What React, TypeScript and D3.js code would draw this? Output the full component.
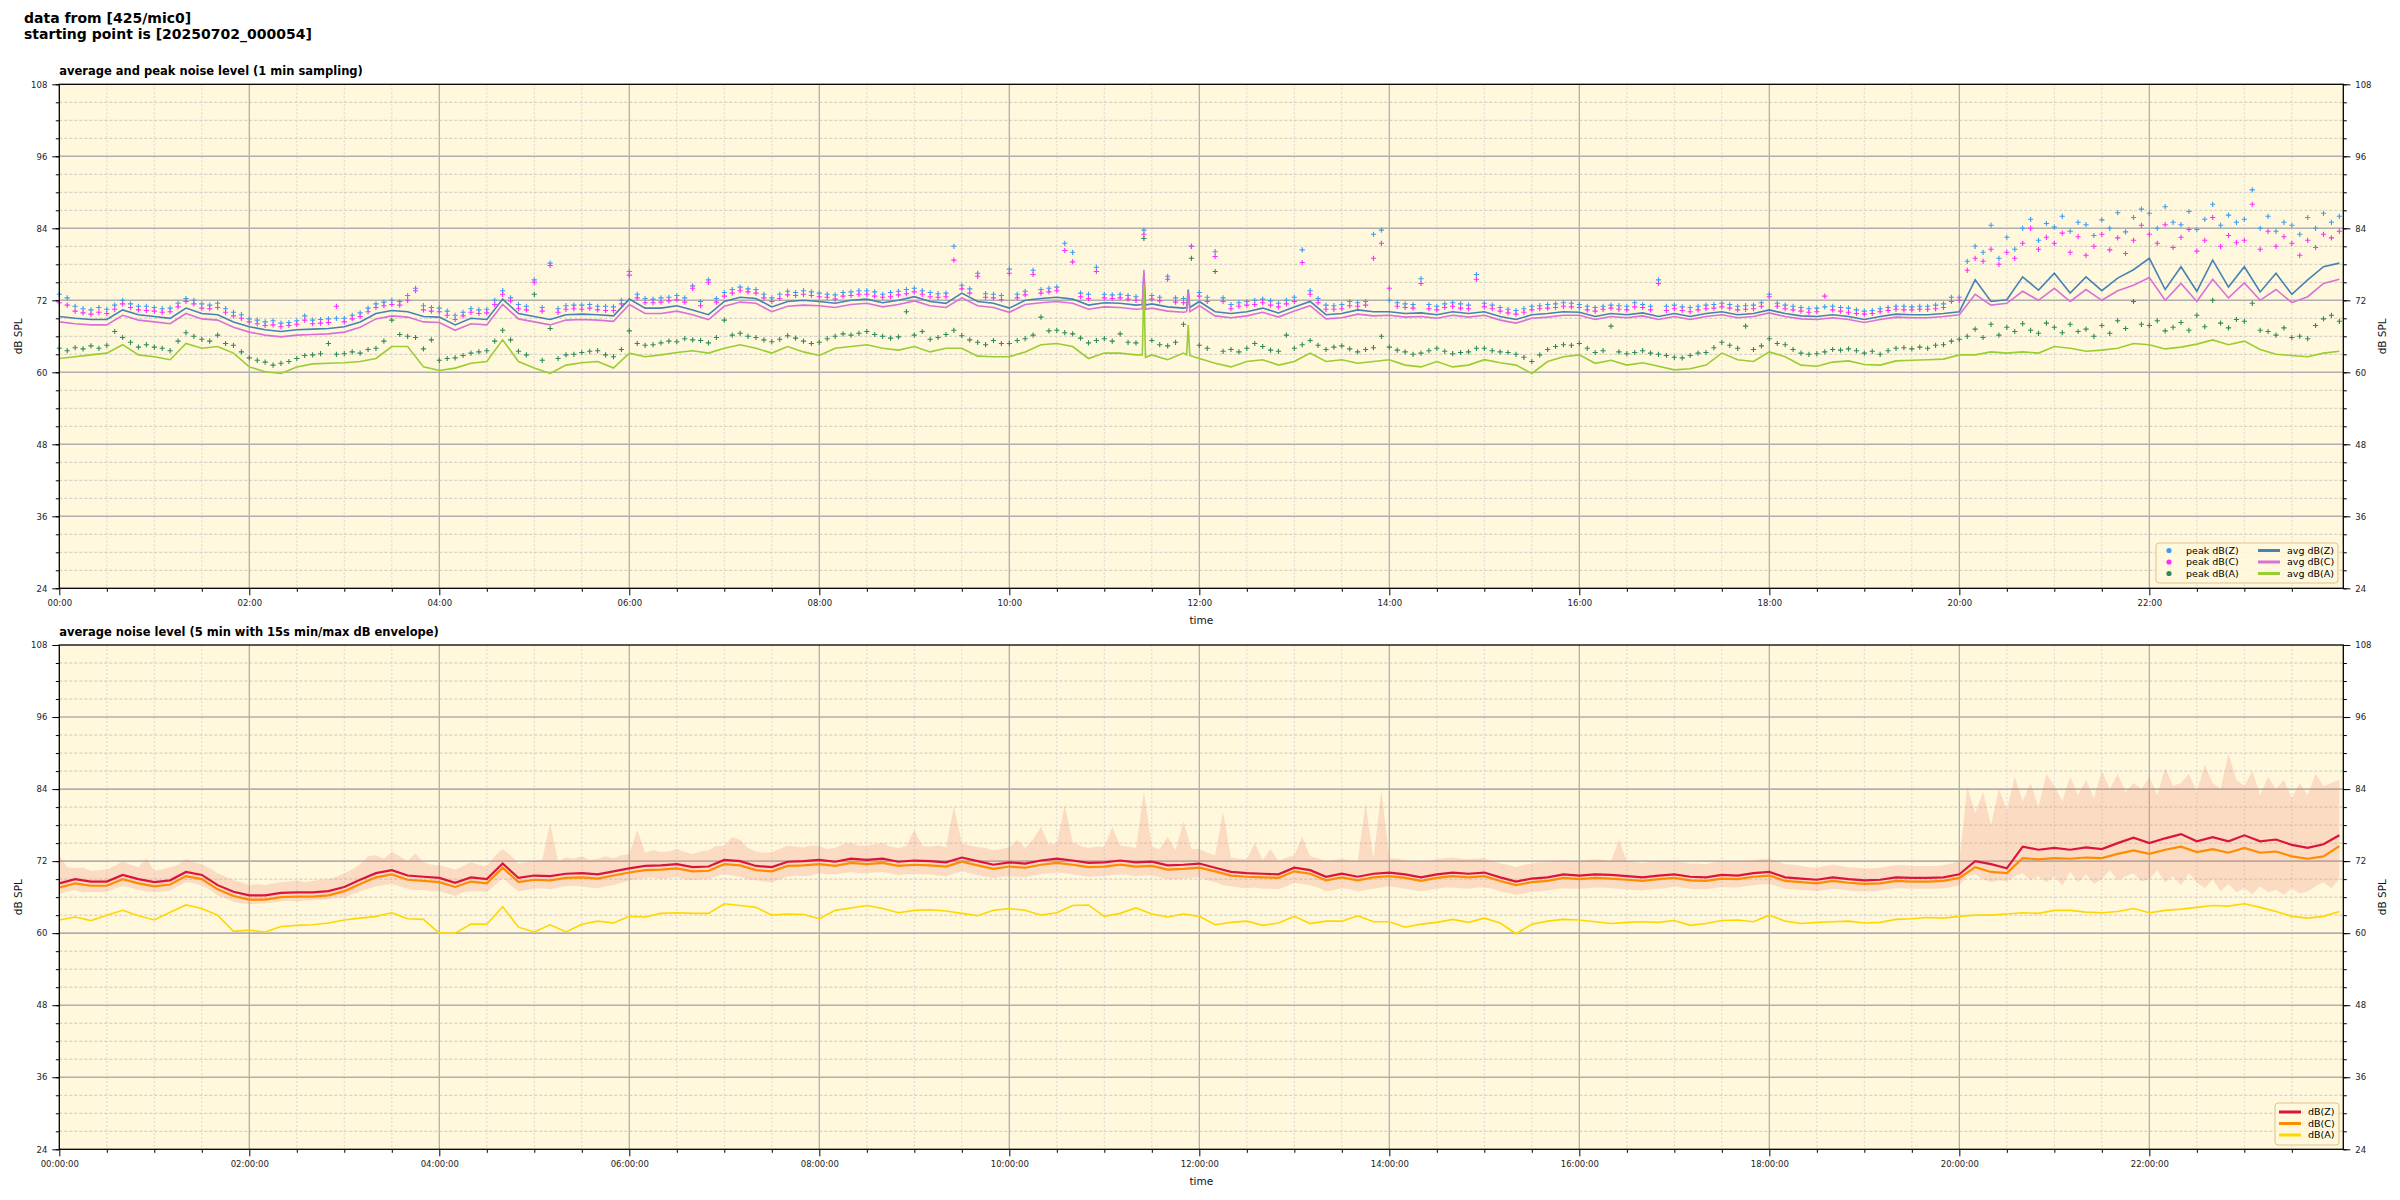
import React, { useEffect, useRef } from 'react';
import * as d3 from 'd3';

// ---- top panel: 1 min sampling (read every 10 min for the averages, every 5 min for the peaks)
const avgZ = [
  69.3, 69.0, 68.8, 68.8, 70.4, 69.6, 69.3, 69.0, 70.7, 69.8, 69.6, 68.4,
  67.6, 67.1, 66.8, 67.1, 67.2, 67.3, 67.6, 68.4, 69.8, 70.3, 70.1, 69.3,
  69.2, 67.9, 69.0, 68.8, 72.2, 69.8, 69.3, 68.8, 69.6, 69.7, 69.6, 69.4,
  72.2, 70.7, 70.7, 71.1, 70.4, 69.6, 71.8, 72.5, 72.3, 70.9, 71.8, 72.0,
  71.8, 71.5, 72.0, 72.2, 71.6, 72.0, 72.6, 71.8, 71.5, 73.2, 71.8, 71.5,
  70.7, 72.0, 72.3, 72.5, 72.2, 71.2, 71.6, 71.5, 71.2, 71.4, 70.9, 70.7,
  71.8, 70.1, 69.8, 70.1, 70.7, 69.9, 70.9, 71.8, 69.6, 69.8, 70.4, 70.1,
  70.1, 69.8, 69.9, 69.6, 70.1, 69.8, 70.1, 69.3, 68.8, 69.6, 69.8, 70.1,
  70.0, 69.3, 69.8, 69.6, 69.9, 69.3, 69.8, 69.3, 69.8, 70.1, 69.6, 69.8,
  70.4, 69.8, 69.4, 69.3, 69.6, 69.3, 68.8, 69.3, 69.7, 69.6, 69.6, 69.8,
  70.1, 75.4, 71.8, 72.1, 75.9, 73.7, 76.5, 73.2, 75.9, 73.6, 75.7, 77.1,
  79.0, 73.8, 77.6, 73.5, 78.7, 74.2, 77.6, 73.4, 76.5, 73.0, 75.4, 77.6,
  78.2,
];
const avgC = [
  68.4, 68.1, 67.9, 67.9, 69.5, 68.7, 68.4, 68.1, 69.8, 68.9, 68.7, 67.5,
  66.7, 66.2, 65.9, 66.2, 66.3, 66.4, 66.7, 67.5, 68.9, 69.4, 69.2, 68.4,
  68.3, 67.0, 68.1, 67.9, 71.3, 68.9, 68.4, 67.9, 68.7, 68.8, 68.7, 68.5,
  71.3, 69.8, 69.8, 70.2, 69.6, 68.8, 71.0, 71.7, 71.5, 70.1, 71.0, 71.2,
  71.1, 70.8, 71.3, 71.5, 70.9, 71.3, 71.9, 71.1, 70.8, 72.4, 71.1, 70.8,
  70.0, 71.3, 71.6, 71.8, 71.5, 70.5, 70.9, 70.8, 70.5, 70.7, 70.2, 70.0,
  71.1, 69.4, 69.1, 69.4, 70.0, 69.2, 70.2, 71.1, 68.9, 69.1, 69.7, 69.4,
  69.5, 69.2, 69.3, 69.0, 69.5, 69.2, 69.5, 68.7, 68.2, 69.0, 69.2, 69.5,
  69.5, 68.8, 69.3, 69.1, 69.4, 68.8, 69.3, 68.8, 69.3, 69.6, 69.1, 69.3,
  69.9, 69.3, 68.9, 68.8, 69.1, 68.8, 68.3, 68.8, 69.2, 69.1, 69.1, 69.3,
  69.6, 73.0, 71.2, 71.5, 73.5, 72.0, 74.0, 71.8, 73.8, 72.0, 73.6, 74.5,
  75.8, 72.0, 74.8, 71.8, 75.5, 72.4, 74.9, 72.0, 73.8, 71.6, 72.6, 74.8,
  75.5,
];
const avgA = [
  62.3, 62.6, 62.9, 63.2, 64.6, 62.9, 62.6, 62.1, 64.8, 64.0, 64.3, 63.2,
  60.9, 60.1, 59.8, 60.9, 61.4, 61.5, 61.6, 61.8, 62.3, 64.3, 64.3, 60.9,
  60.3, 60.7, 61.5, 61.8, 65.4, 61.8, 60.7, 59.8, 61.2, 61.6, 61.8, 60.7,
  63.2, 62.6, 62.9, 63.3, 63.6, 63.2, 64.0, 64.6, 64.0, 63.2, 64.3, 63.4,
  62.8, 64.0, 64.3, 64.6, 64.0, 63.7, 64.3, 63.4, 64.0, 64.0, 62.7, 62.6,
  62.6, 63.4, 64.6, 64.8, 64.3, 62.3, 63.2, 63.2, 62.9, 62.9, 62.1, 63.2,
  62.3, 61.5, 60.9, 61.8, 62.1, 61.2, 61.8, 63.2, 61.8, 62.1, 61.5, 61.8,
  62.1, 61.2, 60.9, 61.8, 60.9, 61.2, 62.1, 61.6, 61.2, 59.8, 61.8, 62.6,
  62.9, 61.5, 62.0, 61.2, 61.6, 61.0, 60.4, 60.6, 61.2, 63.2, 62.1, 61.8,
  63.4, 62.6, 61.2, 61.0, 61.7, 61.9, 61.3, 61.2, 61.9, 62.0, 62.1, 62.2,
  62.9, 62.9, 63.4, 63.2, 63.4, 63.2, 64.3, 64.0, 63.5, 63.7, 64.0, 64.8,
  64.6, 63.9, 64.2, 64.7, 65.4, 64.6, 65.2, 63.8, 63.0, 62.8, 62.6, 63.2,
  63.5,
];
// narrow one-minute spikes around 11:25 and 11:53
const spikeTimes = [684, 685, 686, 712, 713, 714];
const spikeZ = [71.3, 76.5, 71.2, 70.8, 73.8, 70.8];
const spikeC = [70.6, 77.1, 70.5, 70.1, 73.5, 70.1];
const spikeA = [62.9, 74.6, 62.5, 62.9, 67.9, 62.8];

const peakZ = [
  73.0, 72.4, 71.0, 70.6, 70.4, 70.8, 70.5, 71.2, 72.0, 71.4, 71.0, 71.0,
  70.8, 70.6, 70.7, 71.5, 72.3, 72.0, 71.4, 71.2, 71.5, 70.6, 70.0, 69.6,
  68.9, 68.7, 68.4, 68.6, 68.2, 68.3, 68.6, 69.4, 68.7, 68.8, 68.9, 69.0,
  69.0, 69.5, 69.9, 70.7, 71.4, 71.7, 72.0, 71.8, 72.8, 74.0, 71.1, 70.8,
  70.7, 70.2, 69.5, 70.0, 70.6, 70.4, 70.5, 72.0, 73.6, 72.4, 71.3, 71.0,
  75.4, 70.8, 78.2, 70.6, 71.1, 71.2, 71.2, 71.3, 71.0, 71.0, 70.9, 72.0,
  76.8, 73.0, 72.3, 72.2, 72.4, 72.5, 72.8, 72.4, 74.4, 71.8, 75.4, 72.3,
  73.3, 73.8, 74.2, 73.9, 73.8, 73.0, 72.4, 73.0, 73.5, 73.3, 73.6, 73.4,
  73.2, 73.0, 72.9, 73.3, 73.4, 73.6, 73.6, 73.4, 73.0, 73.3, 73.5, 73.8,
  74.0, 73.6, 73.3, 73.1, 73.2, 81.0, 74.5, 73.9, 76.5, 73.1, 73.0, 72.8,
  77.2, 73.0, 73.5, 77.0, 73.8, 74.0, 74.2, 81.5, 80.0, 73.2, 73.0, 77.5,
  73.0, 72.9, 73.0, 72.8, 72.6, 83.7, 72.8, 72.5, 76.0, 72.4, 72.3, 81.0,
  73.3, 72.5, 80.1, 72.4, 71.3, 71.6, 71.8, 72.0, 72.2, 71.9, 71.5, 72.0,
  72.5, 80.4, 73.6, 72.3, 71.2, 71.1, 71.3, 71.8, 71.6, 71.8, 83.0, 83.7,
  72.0, 71.6, 71.4, 71.3, 75.6, 71.3, 71.0, 71.4, 71.6, 71.4, 71.2, 76.3,
  71.5, 71.2, 70.8, 70.5, 70.3, 70.6, 71.0, 71.1, 71.3, 71.4, 71.6, 71.5,
  71.3, 71.0, 70.8, 71.0, 71.2, 71.1, 71.0, 71.6, 71.3, 71.0, 75.4, 71.0,
  71.2, 70.9, 70.8, 71.0, 71.2, 71.3, 71.5, 71.3, 71.0, 71.1, 71.2, 71.6,
  73.0, 71.5, 71.2, 71.0, 70.8, 70.6, 70.7, 70.9, 71.0, 70.8, 70.7, 70.4,
  70.2, 70.3, 70.6, 70.8, 71.0, 71.0, 70.9, 71.0, 71.0, 71.2, 71.4, 72.5,
  72.5, 78.5, 81.0, 80.0, 84.5, 79.0, 82.5, 80.5, 84.0, 85.5, 82.0, 84.8,
  84.2, 86.0, 83.5, 85.0, 84.6, 82.8, 85.4, 84.0, 86.6, 83.4, 85.8, 87.2,
  86.5, 84.0, 87.6, 85.0, 84.6, 86.8, 83.8, 85.5, 88.0, 84.5, 86.2, 85.0,
  85.5, 90.4, 84.0, 86.0, 83.5, 85.0, 84.5, 83.0, 85.8, 84.0, 86.5, 85.0,
  86.0,
];
const peakC = [
  71.6, 71.2, 70.2, 69.9, 69.7, 70.0, 69.8, 70.5, 71.4, 70.8, 70.4, 70.3,
  70.2, 70.0, 70.1, 70.9, 71.8, 71.4, 70.7, 70.6, 70.8, 70.0, 69.4, 69.0,
  68.4, 68.1, 67.8, 67.9, 67.6, 67.8, 68.0, 68.7, 68.1, 68.2, 68.3, 71.0,
  68.4, 68.9, 69.3, 70.1, 70.8, 71.1, 71.3, 71.2, 72.0, 73.6, 70.4, 70.2,
  70.1, 69.5, 68.8, 69.4, 70.0, 69.8, 69.9, 71.3, 73.0, 71.9, 70.6, 70.4,
  75.0, 70.2, 77.8, 70.0, 70.5, 70.6, 70.5, 70.7, 70.4, 70.3, 70.3, 71.4,
  76.2, 72.4, 71.6, 71.6, 71.7, 71.9, 72.1, 71.7, 74.0, 71.1, 75.0, 71.7,
  72.7, 73.2, 73.6, 73.4, 73.2, 72.4, 71.8, 72.3, 72.9, 72.8, 73.0, 72.8,
  72.6, 72.5, 72.2, 72.7, 72.8, 73.0, 73.0, 72.7, 72.5, 72.6, 72.9, 73.1,
  73.4, 73.0, 72.6, 72.5, 72.6, 78.7, 73.9, 73.2, 76.0, 72.5, 72.4, 72.1,
  76.5, 72.4, 72.9, 76.3, 73.2, 73.4, 73.6, 80.3, 78.4, 72.6, 72.3, 76.8,
  72.4, 72.3, 72.4, 72.2, 72.0, 83.0, 72.2, 71.9, 75.5, 71.7, 71.6, 81.0,
  72.7, 71.8, 79.3, 71.8, 70.6, 71.0, 71.2, 71.3, 71.6, 71.2, 70.9, 71.4,
  71.8, 78.3, 73.0, 71.6, 70.5, 70.5, 70.6, 71.1, 71.0, 71.2, 79.0, 81.5,
  74.0, 71.0, 70.8, 70.7, 74.8, 70.6, 70.4, 70.8, 71.0, 70.7, 70.6, 75.5,
  70.9, 70.6, 70.2, 69.9, 69.7, 70.0, 70.4, 70.6, 70.7, 70.8, 71.0, 70.9,
  70.8, 70.4, 70.2, 70.5, 70.7, 70.5, 70.4, 70.9, 70.8, 70.4, 74.8, 70.3,
  70.6, 70.3, 70.1, 70.4, 70.6, 70.7, 70.9, 70.7, 70.4, 70.5, 70.6, 71.0,
  72.6, 71.0, 70.6, 70.4, 70.2, 70.0, 70.1, 72.7, 70.4, 70.2, 70.0, 69.8,
  69.7, 69.8, 70.1, 70.3, 70.5, 70.4, 70.4, 70.5, 70.5, 70.6, 70.8, 71.8,
  72.0, 77.0, 79.0, 78.5, 80.5, 78.0, 80.0, 79.0, 81.5, 84.0, 80.5, 82.5,
  81.5, 83.2, 80.0, 82.6, 79.5, 81.0, 83.0, 80.4, 82.4, 79.8, 82.0, 84.5,
  83.0, 81.5, 84.6, 80.8, 82.5, 83.8, 80.2, 82.0, 85.8, 81.0, 82.8, 81.6,
  82.0, 88.0, 80.5, 83.5, 81.0, 82.6, 81.5, 79.5, 82.0, 80.8, 83.0, 82.4,
  83.5,
];
const peakA = [
  64.0, 63.6, 64.1, 63.9, 64.4, 64.0, 64.5, 66.8, 65.8, 65.0, 64.2, 64.6,
  64.2, 64.0, 63.6, 65.2, 66.6, 66.0, 65.5, 65.2, 66.2, 64.8, 64.5, 63.4,
  62.4, 62.0, 61.7, 61.2, 61.5, 61.8, 62.3, 62.8, 62.9, 63.1, 64.8, 63.0,
  63.1, 63.4, 63.2, 63.8, 64.0, 65.2, 68.7, 66.3, 66.0, 65.8, 63.9, 65.4,
  62.0, 62.3, 62.4, 62.8, 63.2, 63.4, 63.6, 65.2, 67.0, 65.4, 63.5, 62.9,
  73.0, 62.0, 67.3, 62.3, 62.9, 63.0, 63.3, 63.5, 63.6, 62.9, 62.6, 63.8,
  66.9, 64.8, 64.5, 64.6, 64.9, 65.2, 65.1, 65.6, 65.4, 65.3, 64.9, 65.8,
  68.7, 66.2, 66.5, 66.0, 65.8, 65.4, 65.1, 65.5, 66.1, 65.7, 65.2, 64.8,
  65.0, 65.6, 66.0, 66.4, 66.2, 66.5, 66.8, 66.3, 66.0, 65.7, 65.9, 70.1,
  66.2, 66.8, 65.5, 65.8, 66.3, 67.0, 66.1, 65.4, 65.0, 64.6, 65.3, 64.8,
  64.8, 65.3, 65.6, 66.2, 69.2, 66.9, 67.0, 66.6, 66.4, 65.7, 64.9, 65.3,
  65.6, 65.2, 66.4, 65.0, 64.9, 82.3, 65.3, 64.6, 64.4, 65.0, 68.0, 79.0,
  64.5, 64.0, 76.8, 63.5, 63.8, 63.4, 64.0, 64.8, 64.3, 63.7, 63.5, 66.2,
  64.0, 64.6, 65.3, 64.5, 63.8, 64.2, 64.4, 63.9, 63.4, 63.8, 64.1, 66.0,
  64.2, 63.7, 63.4, 63.0, 63.2, 63.6, 64.0, 63.5, 63.1, 63.3, 63.4, 64.0,
  64.0, 63.6, 63.4, 63.3, 63.0, 62.5, 61.8, 62.9, 63.8, 64.3, 64.6, 64.5,
  64.8, 64.0, 63.3, 63.6, 67.7, 63.4, 63.1, 63.3, 63.6, 63.2, 63.0, 62.8,
  62.5, 62.4, 62.8, 63.2, 63.3, 64.1, 65.0, 64.5, 64.0, 67.7, 63.8, 64.4,
  65.6, 64.8, 64.6, 63.8, 63.2, 63.0, 63.1, 63.4, 63.8, 63.7, 63.9, 63.6,
  63.2, 63.5, 63.0, 63.6, 64.0, 64.1, 63.9, 64.2, 64.0, 64.5, 64.6, 65.2,
  65.5, 66.0, 67.2, 65.8, 68.0, 66.2, 67.5, 66.8, 68.1, 67.0, 66.5, 68.2,
  67.5, 66.6, 68.0, 66.8, 67.2, 66.0, 67.8, 66.5, 68.6, 67.3, 71.8, 68.0,
  67.8, 68.6, 66.9, 67.5, 68.3, 67.0, 69.5, 67.6, 72.0, 68.2, 67.4, 68.8,
  68.5, 71.5, 67.0, 66.8, 66.2, 67.4, 65.8, 66.0, 65.6, 67.8, 68.9, 69.5,
  68.5,
];

// ---- bottom panel: 5 min averages (read every 10 min) and 15 s min/max envelope (every 5 min)
const lvlZ = [
  68.3, 69.0, 68.6, 68.6, 69.7, 69.0, 68.5, 68.8, 70.2, 69.7, 68.0, 66.9,
  66.3, 66.3, 66.7, 66.8, 66.8, 67.0, 67.7, 68.9, 70.0, 70.5, 69.6, 69.4,
  69.2, 68.4, 69.3, 69.0, 71.6, 69.2, 69.6, 69.5, 69.9, 70.0, 69.8, 70.3,
  70.8, 71.2, 71.3, 71.5, 71.0, 71.1, 72.2, 72.0, 71.2, 71.0, 71.9, 72.0,
  72.2, 71.9, 72.4, 72.2, 72.4, 71.9, 72.1, 72.0, 71.8, 72.6, 72.0, 71.4,
  71.8, 71.6, 72.1, 72.4, 72.1, 71.7, 71.8, 72.1, 71.8, 71.9, 71.3, 71.4,
  71.6, 70.9, 70.2, 70.0, 69.9, 69.8, 70.9, 70.5, 69.4, 69.9, 69.4, 69.9,
  70.1, 69.8, 69.3, 69.8, 70.1, 69.9, 70.1, 69.3, 68.6, 69.1, 69.3, 69.8,
  69.6, 69.8, 69.7, 69.5, 69.3, 69.6, 69.8, 69.4, 69.3, 69.7, 69.6, 70.0,
  70.2, 69.3, 69.1, 68.9, 69.3, 69.0, 68.8, 68.9, 69.3, 69.2, 69.2, 69.3,
  69.8, 72.0, 71.5, 70.8, 74.4, 73.9, 74.2, 73.9, 74.3, 74.0, 75.0, 75.9,
  75.0, 75.8, 76.5, 75.3, 76.0, 75.3, 76.3, 75.3, 75.6, 74.7, 74.2, 74.8,
  76.3,
];
const lvlC = [
  67.6, 68.3, 67.9, 67.9, 69.0, 68.3, 67.8, 68.1, 69.5, 69.0, 67.3, 66.2,
  65.6, 65.6, 66.0, 66.1, 66.1, 66.3, 67.0, 68.2, 69.3, 69.8, 68.9, 68.7,
  68.5, 67.7, 68.6, 68.3, 70.9, 68.5, 68.9, 68.8, 69.2, 69.3, 69.1, 69.6,
  70.1, 70.5, 70.6, 70.8, 70.3, 70.4, 71.5, 71.3, 70.5, 70.3, 71.2, 71.3,
  71.5, 71.2, 71.7, 71.5, 71.7, 71.2, 71.4, 71.3, 71.1, 71.9, 71.3, 70.7,
  71.1, 70.9, 71.4, 71.7, 71.4, 71.0, 71.1, 71.4, 71.1, 71.2, 70.6, 70.7,
  70.9, 70.3, 69.6, 69.4, 69.3, 69.2, 70.3, 69.9, 68.8, 69.3, 68.8, 69.3,
  69.5, 69.2, 68.7, 69.2, 69.5, 69.3, 69.5, 68.7, 68.0, 68.5, 68.7, 69.2,
  69.0, 69.2, 69.1, 68.9, 68.7, 69.0, 69.2, 68.8, 68.7, 69.1, 69.0, 69.4,
  69.6, 68.7, 68.5, 68.3, 68.7, 68.4, 68.2, 68.3, 68.7, 68.6, 68.6, 68.7,
  69.2, 71.0, 70.2, 70.0, 72.5, 72.3, 72.5, 72.4, 72.6, 72.5, 73.2, 73.8,
  73.2, 73.9, 74.4, 73.5, 74.0, 73.4, 74.2, 73.4, 73.6, 72.8, 72.4, 72.8,
  74.5,
];
const lvlA = [
  62.2, 62.7, 62.1, 63.0, 63.8, 62.9, 62.2, 63.5, 64.7, 64.1, 63.0, 60.3,
  60.5, 60.2, 61.1, 61.3, 61.4, 61.7, 62.2, 62.5, 62.8, 63.4, 62.4, 62.3,
  60.0, 60.0, 61.5, 61.5, 64.4, 61.0, 60.2, 61.4, 60.2, 61.5, 62.0, 61.7,
  62.8, 62.7, 63.3, 63.4, 63.3, 63.3, 64.9, 64.6, 64.3, 63.0, 63.2, 63.1,
  62.4, 63.8, 64.2, 64.6, 64.1, 63.4, 63.8, 63.9, 63.7, 63.3, 62.9, 63.8,
  64.1, 63.8, 63.0, 63.4, 64.6, 64.7, 62.8, 63.3, 64.2, 63.2, 62.7, 63.2,
  62.8, 61.4, 61.8, 62.0, 61.3, 61.7, 62.8, 61.6, 62.0, 62.0, 62.9, 61.9,
  61.9, 61.0, 61.5, 61.8, 62.3, 61.8, 62.5, 61.7, 59.9, 61.5, 62.0, 62.3,
  62.2, 61.9, 61.6, 61.8, 61.9, 61.8, 62.1, 61.3, 61.6, 62.1, 62.2, 61.9,
  63.0, 62.0, 61.6, 61.8, 61.9, 62.0, 61.7, 61.8, 62.3, 62.4, 62.6, 62.5,
  62.8, 63.0, 63.0, 63.2, 63.4, 63.3, 63.8, 63.8, 63.5, 63.4, 63.6, 64.1,
  63.4, 63.8, 64.0, 64.3, 64.6, 64.5, 64.9, 64.3, 63.6, 62.8, 62.5, 62.8,
  63.6,
];
const envMax = [
  73.0, 71.0, 70.8, 70.9, 70.4, 70.5, 70.6, 71.2, 72.0, 71.4, 71.0, 72.5,
  70.4, 70.6, 71.0, 71.4, 72.4, 71.8, 71.5, 70.8, 70.0, 69.4, 68.8, 68.5,
  68.0, 68.2, 68.0, 68.3, 68.5, 68.6, 68.8, 68.5, 68.7, 68.9, 69.0, 69.4,
  70.0, 70.6, 71.5, 72.8, 73.0, 72.4, 73.5, 72.8, 72.0, 73.3, 71.8, 71.4,
  71.3, 71.0, 70.6, 71.2, 71.8, 71.4, 71.2, 72.8, 74.0, 73.0, 71.6, 71.8,
  72.0, 72.2, 78.3, 72.0, 72.6, 72.4, 72.8, 72.2, 72.4, 72.8, 72.5, 73.0,
  73.2, 77.2, 73.4, 73.8, 73.5, 73.6, 74.0, 73.5, 73.2, 73.6, 73.8, 74.5,
  74.5, 76.0, 75.5, 74.2, 73.6, 73.4, 73.5, 74.0, 74.6, 74.4, 74.3, 74.6,
  74.5, 74.0, 74.2, 74.8, 75.0, 74.6, 74.5, 74.8, 75.0, 74.4, 74.2, 74.5,
  77.2, 74.5, 74.4, 74.6, 74.3, 81.1, 75.0, 74.6, 74.3, 74.2, 73.8, 74.0,
  74.3, 75.5, 74.2, 75.6, 77.7, 74.8, 74.9, 81.3, 75.2, 74.5, 74.2, 74.4,
  74.4, 77.7, 74.6, 74.4, 74.2, 83.6, 74.4, 74.0, 76.0, 73.8, 78.6, 74.0,
  74.0, 73.4, 73.0, 80.2, 72.6, 72.4, 72.3, 75.0, 72.2, 74.0, 72.0, 72.6,
  73.0, 76.0, 72.8, 72.5, 72.0, 72.2, 72.4, 72.2, 72.0, 81.6, 72.4, 83.8,
  72.5, 72.4, 72.2, 72.0, 71.8, 72.0, 72.3, 72.5, 72.6, 72.4, 72.3, 72.4,
  72.5, 72.0, 71.6, 71.4, 71.0, 71.4, 71.6, 71.8, 71.8, 72.0, 72.2, 72.0,
  72.0, 72.2, 72.3, 72.2, 72.0, 75.5, 72.0, 71.8, 71.7, 71.9, 72.0, 72.1,
  72.0, 71.8, 71.6, 71.6, 71.5, 71.8, 72.0, 71.9, 71.8, 72.0, 72.2, 72.3,
  72.4, 72.0, 71.5, 71.4, 71.2, 71.0, 70.9, 71.2, 71.4, 71.2, 71.0, 70.9,
  70.8, 70.8, 70.9, 71.1, 71.3, 71.3, 71.2, 71.2, 71.2, 71.2, 71.3, 71.6,
  72.0, 84.4, 80.0, 83.5, 78.0, 84.0, 80.5, 86.0, 82.0, 85.0, 81.0, 86.5,
  84.5, 82.0, 86.0, 83.0, 85.5, 82.5, 87.0, 84.0, 86.5, 83.5, 85.0, 84.0,
  86.0, 83.0, 87.5, 84.5, 85.0, 86.5, 83.5, 88.0, 85.0, 84.0, 89.9, 85.5,
  84.5, 87.0, 83.0, 86.0, 84.0, 85.5, 82.5, 85.0, 83.0, 86.5, 84.5, 85.0,
  85.5,
];
const envMin = [
  66.5, 67.0, 67.2, 66.8, 66.9, 66.8, 66.9, 67.5, 67.8, 67.6, 67.2, 67.0,
  66.8, 66.9, 67.1, 67.8, 68.5, 68.3, 68.0, 67.2, 66.3, 65.8, 65.2, 65.0,
  64.8, 64.9, 65.0, 65.1, 65.3, 65.4, 65.3, 65.4, 65.5, 65.6, 65.7, 65.9,
  66.0, 66.5, 67.0, 67.4, 67.8, 68.0, 68.2, 67.8, 67.4, 67.2, 67.2, 67.0,
  67.0, 66.6, 66.2, 66.8, 67.0, 67.0, 66.8, 68.0, 69.2, 68.0, 67.0, 67.2,
  67.4, 67.5, 67.3, 67.6, 67.8, 67.9, 67.8, 67.6, 67.5, 67.8, 68.0, 68.4,
  68.8, 69.0, 69.2, 69.3, 69.0, 69.2, 69.4, 69.0, 68.8, 69.0, 69.0, 69.5,
  69.8, 69.6, 69.4, 69.0, 68.8, 68.6, 68.5, 69.0, 69.4, 69.6, 69.5, 69.6,
  70.0, 69.8, 69.8, 70.0, 70.2, 70.0, 70.0, 70.1, 70.2, 70.0, 69.7, 69.8,
  69.9, 69.8, 69.8, 69.6, 69.5, 69.9, 70.3, 70.0, 69.7, 69.4, 69.2, 69.4,
  69.5, 69.4, 69.3, 69.6, 69.8, 70.0, 70.1, 70.0, 69.8, 69.6, 69.4, 69.5,
  69.5, 69.7, 69.8, 69.7, 69.5, 69.6, 69.6, 69.3, 69.0, 69.0, 69.1, 69.2,
  69.3, 68.8, 68.5, 68.0, 67.8, 67.6, 67.5, 67.6, 67.4, 67.4, 67.3, 67.8,
  68.4, 68.2, 68.0, 67.6, 67.0, 67.2, 67.5, 67.3, 67.0, 67.2, 67.4, 67.6,
  67.8, 67.6, 67.4, 67.2, 67.0, 67.2, 67.4, 67.6, 67.6, 67.5, 67.4, 67.6,
  67.6, 67.4, 67.0, 66.7, 66.4, 66.6, 66.9, 67.0, 67.1, 67.3, 67.5, 67.4,
  67.4, 67.5, 67.6, 67.6, 67.5, 67.4, 67.3, 67.2, 67.1, 67.3, 67.4, 67.5,
  67.8, 67.6, 67.4, 67.3, 67.3, 67.5, 67.7, 67.6, 67.6, 67.8, 68.0, 68.1,
  68.2, 67.8, 67.4, 67.3, 67.2, 67.1, 67.0, 67.2, 67.4, 67.3, 67.1, 67.0,
  67.0, 67.0, 67.1, 67.3, 67.5, 67.5, 67.4, 67.4, 67.4, 67.4, 67.5, 67.7,
  68.0, 69.5, 69.8, 69.0, 68.5, 68.8, 68.6, 69.5, 70.0, 68.8, 69.5, 68.5,
  69.5, 68.0, 70.2, 68.5, 69.8, 68.2, 69.0, 70.5, 68.8, 69.5, 70.0, 68.6,
  69.0, 70.5, 68.5, 69.5, 68.0, 70.0, 68.5, 67.5, 69.0, 67.0, 68.2, 66.8,
  67.5, 66.5, 67.8, 66.8, 67.2, 66.4, 67.5, 66.6, 67.0, 67.8, 68.5, 67.5,
  69.0,
];

const yTicks = [24, 36, 48, 60, 72, 84, 96, 108];
const xTickLabelsTop = ['00:00', '02:00', '04:00', '06:00', '08:00', '10:00', '12:00', '14:00', '16:00', '18:00', '20:00', '22:00'];
const xTickLabelsBottom = ['00:00:00', '02:00:00', '04:00:00', '06:00:00', '08:00:00', '10:00:00', '12:00:00', '14:00:00', '16:00:00', '18:00:00', '20:00:00', '22:00:00'];

const App: React.FC = () => {
  const ref = useRef<SVGSVGElement | null>(null);

  useEffect(() => {
    const svg = d3.select(ref.current);
    svg.selectAll('*').remove();

    const font = "'DejaVu Sans', sans-serif";
    const x = d3.scaleLinear().domain([0, 1442.5]).range([59.3, 2343.3]);
    const [xl, xr] = x.range();
    const t10 = avgZ.map((_, i) => i * 10);
    const t5 = peakZ.map((_, i) => i * 5);
    const xMajor = xTickLabelsTop.map((_, i) => i * 120);
    const xMinor = d3.range(0, 1440, 30);
    const yMinor = d3.range(24, 109, 3);

    // figure title
    const head = svg.append('g').attr('font-family', font).attr('font-weight', 'bold').attr('font-size', 14);
    head.append('text').attr('x', 24).attr('y', 23).text('data from [425/mic0]');
    head.append('text').attr('x', 24).attr('y', 39).text('starting point is [20250702_000054]');

    // background + grid of one panel
    const panel = (top: number, bottom: number, title: string) => {
      const y = d3.scaleLinear().domain([24, 108]).range([bottom, top]);
      const g = svg.append('g');
      g.append('rect').attr('x', xl).attr('y', top).attr('width', xr - xl).attr('height', bottom - top).attr('fill', '#fff8dc');
      g.selectAll(null).data(yMinor.filter(d => d % 12 !== 0)).join('line')
        .attr('x1', xl).attr('x2', xr).attr('y1', d => y(d)).attr('y2', d => y(d))
        .attr('stroke', '#bdbdbd').attr('stroke-width', 0.8).attr('stroke-dasharray', '3,2');
      g.selectAll(null).data(xMinor.filter(d => d % 120 !== 0)).join('line')
        .attr('x1', d => x(d)).attr('x2', d => x(d)).attr('y1', top).attr('y2', bottom)
        .attr('stroke', '#cfcfcf').attr('stroke-width', 0.8).attr('stroke-dasharray', '2,2');
      g.selectAll(null).data(yTicks.slice(1, -1)).join('line')
        .attr('x1', xl).attr('x2', xr).attr('y1', d => y(d)).attr('y2', d => y(d))
        .attr('stroke', '#b0b0b0').attr('stroke-width', 1.6);
      g.selectAll(null).data(xMajor.slice(1)).join('line')
        .attr('x1', d => x(d)).attr('x2', d => x(d)).attr('y1', top).attr('y2', bottom)
        .attr('stroke', '#b0b0b0').attr('stroke-width', 1.3);
      svg.append('text').attr('x', xl).attr('y', top - 9).attr('font-family', font)
        .attr('font-weight', 'bold').attr('font-size', 11.5).text(title);
      return y;
    };

    // spines, ticks, labels
    const axes = (y: d3.ScaleLinear<number, number>, labels: string[]) => {
      const [bottom, top] = y.range();
      const g = svg.append('g');
      const fmt = (_: d3.NumberValue, i: number) => labels[i];
      g.append('g').attr('transform', `translate(${xl},0)`)
        .call(d3.axisLeft(y).tickValues(yTicks).tickSize(7).tickPadding(5));
      g.append('g').attr('transform', `translate(${xl},0)`)
        .call(d3.axisLeft(y).tickValues(yMinor).tickSize(3.5).tickFormat(() => ''));
      g.append('g').attr('transform', `translate(${xr},0)`)
        .call(d3.axisRight(y).tickValues(yTicks).tickSize(7).tickPadding(5));
      g.append('g').attr('transform', `translate(${xr},0)`)
        .call(d3.axisRight(y).tickValues(yMinor).tickSize(3.5).tickFormat(() => ''));
      g.append('g').attr('transform', `translate(0,${bottom})`)
        .call(d3.axisBottom(x).tickValues(xMajor).tickFormat(fmt).tickSize(7).tickPadding(5));
      g.append('g').attr('transform', `translate(0,${bottom})`)
        .call(d3.axisBottom(x).tickValues(xMinor.filter(d => d % 120 !== 0)).tickSize(3.5).tickFormat(() => ''));
      g.selectAll('.domain').remove();
      g.selectAll('text').attr('font-family', font).attr('font-size', 8.5).attr('fill', '#222');
      g.append('rect').attr('x', xl).attr('y', top).attr('width', xr - xl).attr('height', bottom - top)
        .attr('fill', 'none').attr('stroke', '#000').attr('stroke-width', 1.3);

      const mid = (top + bottom) / 2;
      const lab = g.append('g').attr('font-family', font).attr('font-size', 10.5).attr('fill', '#111');
      lab.append('text').attr('transform', `translate(22,${mid}) rotate(-90)`).attr('text-anchor', 'middle').text('dB SPL');
      lab.append('text').attr('transform', `translate(2386,${mid}) rotate(-90)`).attr('text-anchor', 'middle').text('dB SPL');
      lab.append('text').attr('x', (xl + xr) / 2).attr('y', bottom + 36).attr('text-anchor', 'middle').text('time');
    };

    // ---------- top panel
    const yT = panel(84.3, 588.3, 'average and peak noise level (1 min sampling)');
    const plus = (vals: number[], color: string) =>
      svg.append('path')
        .attr('d', vals.map((v, i) => `M${x(t5[i]) - 2.6},${yT(v)}h5.2M${x(t5[i])},${yT(v) - 2.6}v5.2`).join(''))
        .attr('stroke', color).attr('stroke-width', 1.1).attr('fill', 'none');
    plus(peakZ, '#3d9cf0');
    plus(peakC, '#ff2bff');
    plus(peakA, '#2e8b57');

    const lineT = d3.line<[number, number]>().x(d => x(d[0])).y(d => yT(d[1]));
    const withSpikes = (vals: number[], spikes: number[]) =>
      [
        ...vals.map((v, i) => [t10[i], v] as [number, number]),
        ...spikeTimes.map((t, i) => [t, spikes[i]] as [number, number]),
      ].sort((a, b) => a[0] - b[0]);
    [
      [avgZ, spikeZ, '#4682b4'],
      [avgC, spikeC, '#da70d6'],
      [avgA, spikeA, '#9acd32'],
    ].forEach(([vals, spikes, color]) => {
      svg.append('path').attr('d', lineT(withSpikes(vals as number[], spikes as number[])))
        .attr('fill', 'none').attr('stroke', color as string).attr('stroke-width', 1.6);
    });
    axes(yT, xTickLabelsTop);

    // top legend
    const lg = svg.append('g').attr('font-family', font).attr('font-size', 9.5);
    lg.append('rect').attr('x', 2156).attr('y', 543).attr('width', 182).attr('height', 40).attr('rx', 3)
      .attr('fill', '#fff8dc').attr('fill-opacity', 0.85).attr('stroke', '#e2c28e');
    const rowsT = [
      ['peak dB(Z)', '#3d9cf0', 'avg dB(Z)', '#4682b4'],
      ['peak dB(C)', '#ff2bff', 'avg dB(C)', '#da70d6'],
      ['peak dB(A)', '#2e8b57', 'avg dB(A)', '#9acd32'],
    ];
    rowsT.forEach(([pl, pc, al, ac], i) => {
      const yy = 550.5 + i * 11.5;
      lg.append('circle').attr('cx', 2169).attr('cy', yy).attr('r', 2.6).attr('fill', pc);
      lg.append('text').attr('x', 2186).attr('y', yy).attr('dy', '0.35em').text(pl);
      lg.append('line').attr('x1', 2258).attr('x2', 2280).attr('y1', yy).attr('y2', yy).attr('stroke', ac).attr('stroke-width', 3);
      lg.append('text').attr('x', 2287).attr('y', yy).attr('dy', '0.35em').text(al);
    });

    // ---------- bottom panel
    const yB = panel(645, 1149.3, 'average noise level (5 min with 15s min/max dB envelope)');
    const env = d3.area<number>().x((_, i) => x(t5[i])).y0((_, i) => yB(envMin[i])).y1(d => yB(d));
    svg.append('path').attr('d', env(envMax)).attr('fill', '#f08070').attr('fill-opacity', 0.24);
    const lineB = d3.line<number>().x((_, i) => x(t10[i])).y(d => yB(d));
    svg.append('path').attr('d', lineB(lvlZ)).attr('fill', 'none').attr('stroke', '#dc143c').attr('stroke-width', 2.2);
    svg.append('path').attr('d', lineB(lvlC)).attr('fill', 'none').attr('stroke', '#ff8c00').attr('stroke-width', 2.2);
    svg.append('path').attr('d', lineB(lvlA)).attr('fill', 'none').attr('stroke', '#ffd700').attr('stroke-width', 1.6);
    axes(yB, xTickLabelsBottom);

    // bottom legend
    const lb = svg.append('g').attr('font-family', font).attr('font-size', 9.5);
    lb.append('rect').attr('x', 2275).attr('y', 1103).attr('width', 64).attr('height', 42).attr('rx', 3)
      .attr('fill', '#fff8dc').attr('fill-opacity', 0.85).attr('stroke', '#e2c28e');
    [['dB(Z)', '#dc143c'], ['dB(C)', '#ff8c00'], ['dB(A)', '#ffd700']].forEach(([l, c], i) => {
      const yy = 1112 + i * 11.5;
      lb.append('line').attr('x1', 2279).attr('x2', 2301).attr('y1', yy).attr('y2', yy).attr('stroke', c).attr('stroke-width', 3);
      lb.append('text').attr('x', 2308).attr('y', yy).attr('dy', '0.35em').text(l);
    });
  }, []);

  return (
    <svg
      ref={ref}
      width={2400}
      height={1200}
      style={{ position: 'absolute', left: 0, top: 0, background: '#ffffff' }}
    />
  );
};

export default App;
